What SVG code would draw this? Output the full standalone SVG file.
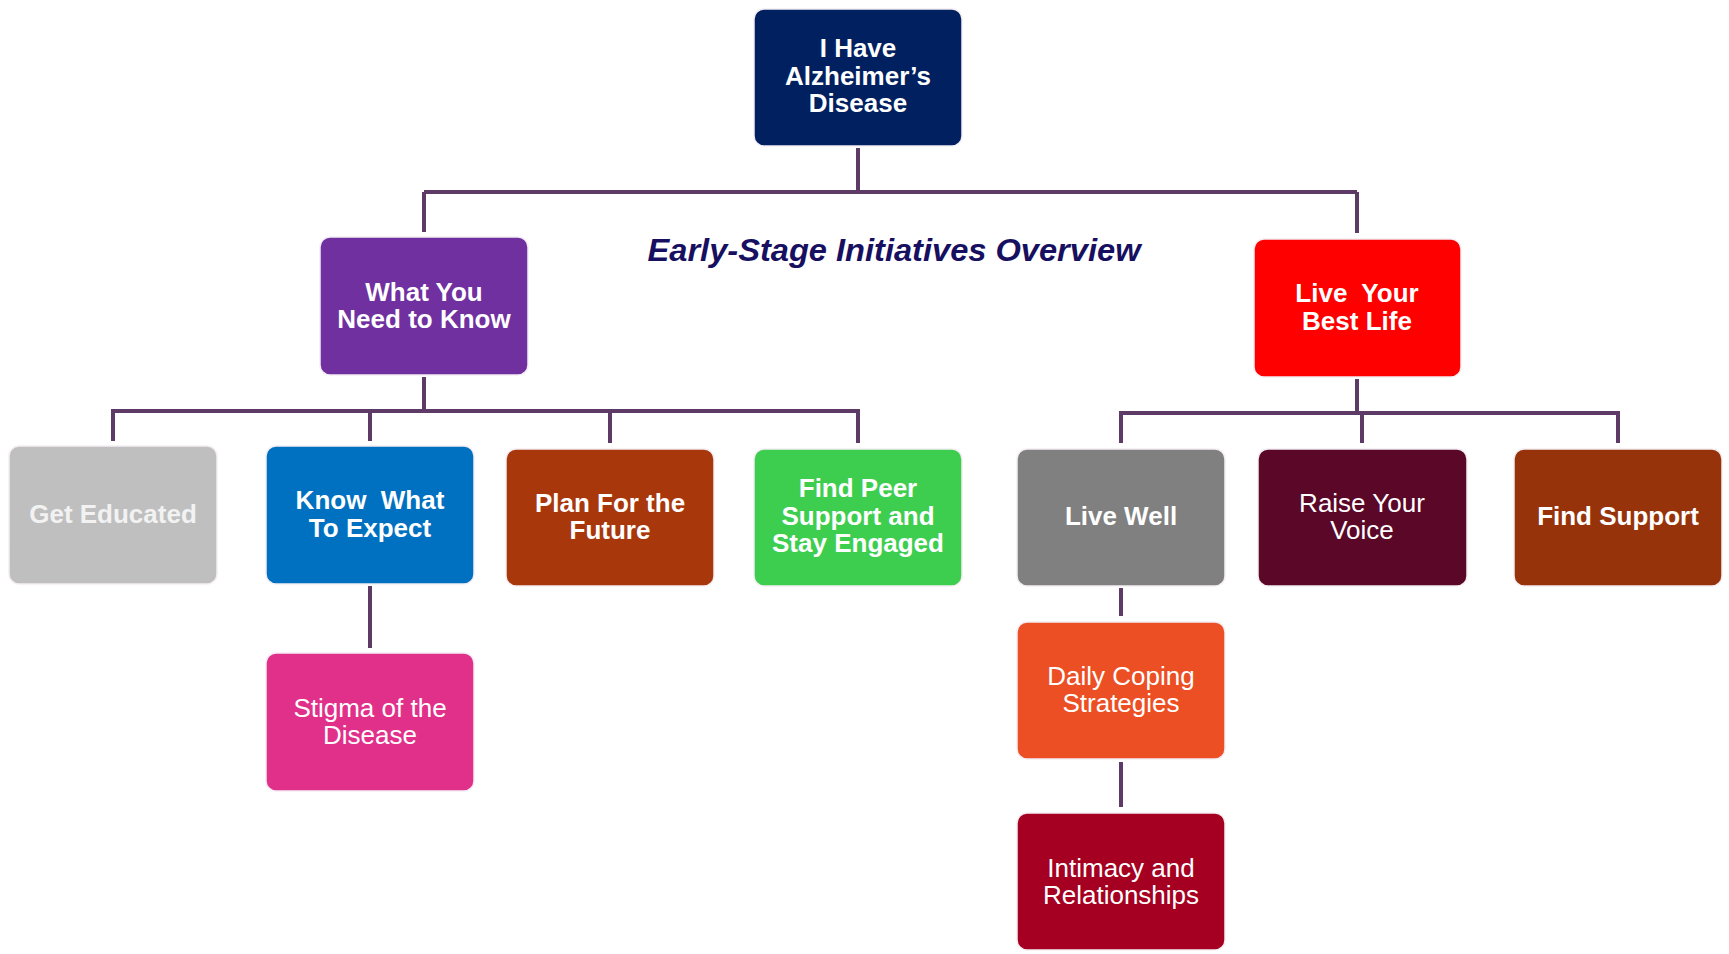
<svg xmlns="http://www.w3.org/2000/svg" width="1729" height="954" viewBox="0 0 1729 954">
<style>
.n{stroke:#f4eef4;stroke-width:1.5}
.t{font-family:"Liberation Sans",Arial,sans-serif;font-size:26px;fill:#ffffff;text-anchor:middle}
.b{font-weight:bold}
.c{fill:none;stroke:#5e3a66;stroke-width:4;stroke-linecap:butt}
.title{font-family:"Liberation Sans",Arial,sans-serif;font-size:32px;font-weight:bold;font-style:italic;fill:#170f5f}
</style>
<rect width="1729" height="954" fill="#ffffff"/>
<g id="connectors">
<path class="c" d="M858 148V192M424 192H1357M424 192V232M1357 192V233"/>
<path class="c" d="M424 377V411M111 411H860M113 411V441M370 411V441M610 411V443M858 411V443"/>
<path class="c" d="M1357 379V413M1119 413H1620M1121 413V443M1362 413V443M1618 413V443"/>
<path class="c" d="M370 586V648"/>
<path class="c" d="M1121 588V616"/>
<path class="c" d="M1121 762V807"/>
</g>
<text class="title" x="894" y="261" text-anchor="middle" textLength="493" lengthAdjust="spacingAndGlyphs">Early-Stage Initiatives Overview</text>
<g id="n-root">
<rect class="n" x="754" y="9" width="208" height="137" rx="10" fill="#002060"/>
<text class="t b" x="858" y="57">I Have</text>
<text class="t b" x="858" y="85">Alzheimer’s</text>
<text class="t b" x="858" y="112">Disease</text>
</g>
<g id="n-what">
<rect class="n" x="320" y="237" width="208" height="138" rx="10" fill="#7030a0"/>
<text class="t b" x="424" y="301">What You</text>
<text class="t b" x="424" y="328">Need to Know</text>
</g>
<g id="n-live">
<rect class="n" x="1254" y="239" width="207" height="138" rx="10" fill="#ff0000"/>
<text class="t b" x="1357" y="302" xml:space="preserve">Live  Your</text>
<text class="t b" x="1357" y="330">Best Life</text>
</g>
<g id="n-educated">
<rect class="n" x="9" y="446" width="208" height="138" rx="10" fill="#bfbfbf"/>
<text class="t b" x="113" y="523" style="fill:#f2f2f2">Get Educated</text>
</g>
<g id="n-know">
<rect class="n" x="266" y="446" width="208" height="138" rx="10" fill="#0070c0"/>
<text class="t b" x="370" y="509" xml:space="preserve">Know  What</text>
<text class="t b" x="370" y="537">To Expect</text>
</g>
<g id="n-plan">
<rect class="n" x="506" y="449" width="208" height="137" rx="10" fill="#a9370c"/>
<text class="t b" x="610" y="512">Plan For the</text>
<text class="t b" x="610" y="539">Future</text>
</g>
<g id="n-peer">
<rect class="n" x="754" y="449" width="208" height="137" rx="10" fill="#3dce50"/>
<text class="t b" x="858" y="497">Find Peer</text>
<text class="t b" x="858" y="525">Support and</text>
<text class="t b" x="858" y="552">Stay Engaged</text>
</g>
<g id="n-livewell">
<rect class="n" x="1017" y="449" width="208" height="137" rx="10" fill="#808080"/>
<text class="t b" x="1121" y="525">Live Well</text>
</g>
<g id="n-raise">
<rect class="n" x="1258" y="449" width="209" height="137" rx="10" fill="#5b0728"/>
<text class="t" x="1362" y="512">Raise Your</text>
<text class="t" x="1362" y="539">Voice</text>
</g>
<g id="n-findsupport">
<rect class="n" x="1514" y="449" width="208" height="137" rx="10" fill="#97330a"/>
<text class="t b" x="1618" y="525">Find Support</text>
</g>
<g id="n-stigma">
<rect class="n" x="266" y="653" width="208" height="138" rx="10" fill="#e0308a"/>
<text class="t" x="370" y="717">Stigma of the</text>
<text class="t" x="370" y="744">Disease</text>
</g>
<g id="n-daily">
<rect class="n" x="1017" y="622" width="208" height="137" rx="10" fill="#ec4f24"/>
<text class="t" x="1121" y="685">Daily Coping</text>
<text class="t" x="1121" y="712">Strategies</text>
</g>
<g id="n-intimacy">
<rect class="n" x="1017" y="813" width="208" height="137" rx="10" fill="#a50021"/>
<text class="t" x="1121" y="877">Intimacy and</text>
<text class="t" x="1121" y="904">Relationships</text>
</g>
</svg>
